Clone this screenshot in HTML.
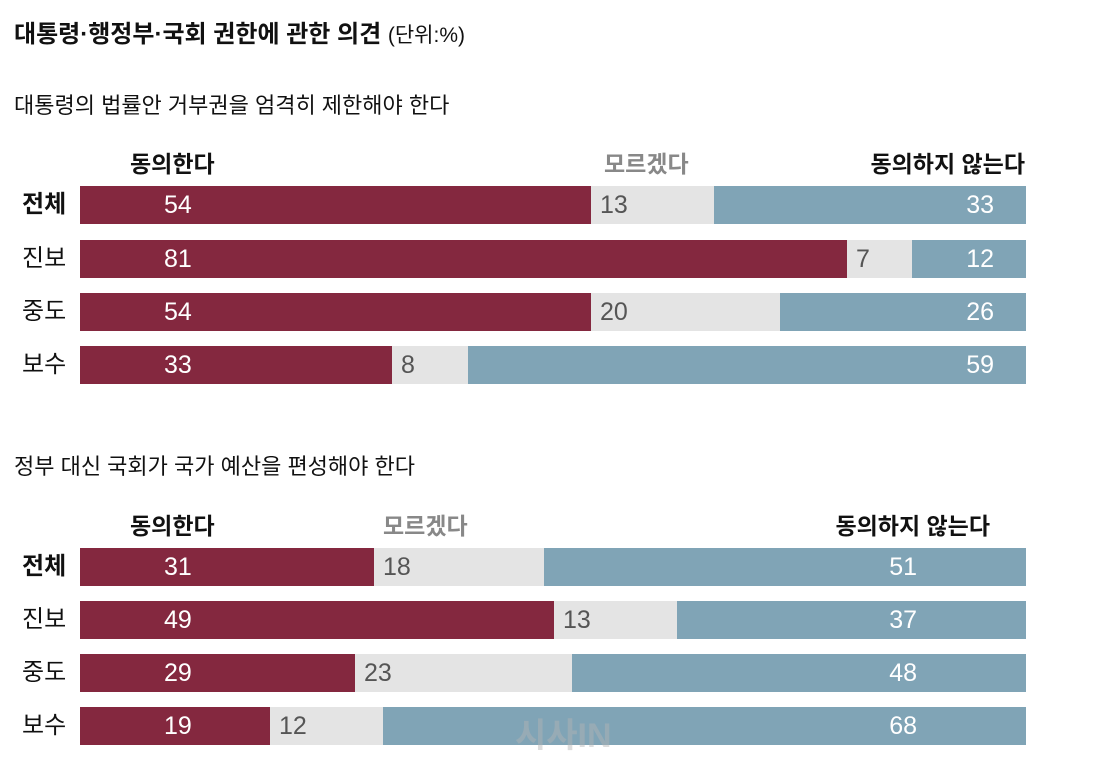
<!DOCTYPE html>
<html><head><meta charset="utf-8"><style>
body{margin:0;width:1115px;height:768px;background:#fff;font-family:"Liberation Sans","Noto Sans CJK KR",sans-serif;position:relative;overflow:hidden;color:#111}
.a{position:absolute;white-space:nowrap}
.bar{position:absolute;height:38px}
.r{background:#84283f}.g{background:#e4e4e4}.b{background:#80a4b6}
.n{position:absolute;font-size:25px;line-height:38px;white-space:nowrap}
.w{color:#fff}.gy{color:#555}
.hd{font-size:23px;font-weight:bold}
</style></head><body>
<div class="a" style="left:14px;top:14px;font-size:24px;font-weight:bold">대통령·행정부·국회 권한에 관한 의견 <span style="font-weight:normal;font-size:21px">(단위:%)</span></div>
<div class="a" style="left:14px;top:88px;font-size:22px">대통령의 법률안 거부권을 엄격히 제한해야 한다</div>
<div class="a hd" style="left:130px;top:145px">동의한다</div>
<div class="a hd" style="left:604px;top:145px;color:#888">모르겠다</div>
<div class="a hd" style="right:90px;top:145px">동의하지 않는다</div>

<div class="a" style="left:14px;top:449px;font-size:22px">정부 대신 국회가 국가 예산을 편성해야 한다</div>
<div class="a hd" style="left:130px;top:507px">동의한다</div>
<div class="a hd" style="left:383px;top:507px;color:#888">모르겠다</div>
<div class="a hd" style="right:125px;top:507px">동의하지 않는다</div>

<div id="c"></div>
<div class="a" style="left:515px;top:708px;font-size:34px;font-weight:bold;color:rgba(180,180,180,0.45)">시사IN</div>
<script>
var rows=[[186,'전체',54,13,33,1,591,714],[240,'진보',81,7,12,0,847,912],[293,'중도',54,20,26,0,591,780],[346,'보수',33,8,59,0,392,468],
[548,'전체',31,18,51,1,374,544],[601,'진보',49,13,37,0,554,677],[654,'중도',29,23,48,0,355,572],[707,'보수',19,12,68,0,270,383]];
var h='';
rows.forEach(function(r,i){var y=r[0];var p=r[6],q=r[7];var top=i<4;
h+='<div class="n" style="left:22px;top:'+y+'px;font-size:24px;'+(r[5]?'font-weight:bold':'')+'">'+r[1]+'</div>';
h+='<div class="bar r" style="left:80px;top:'+y+'px;width:'+(p-80)+'px"></div>';
h+='<div class="bar g" style="left:'+p+'px;top:'+y+'px;width:'+(q-p)+'px"></div>';
h+='<div class="bar b" style="left:'+q+'px;top:'+y+'px;width:'+(1026-q)+'px"></div>';
h+='<div class="n w" style="left:164px;top:'+y+'px">'+r[2]+'</div>';
h+='<div class="n gy" style="left:'+(p+9)+'px;top:'+y+'px">'+r[3]+'</div>';
h+='<div class="n w" style="'+(top?'right:121px':'right:198px')+';top:'+y+'px">'+r[4]+'</div>';});
document.getElementById('c').innerHTML=h;
</script>
</body></html>
